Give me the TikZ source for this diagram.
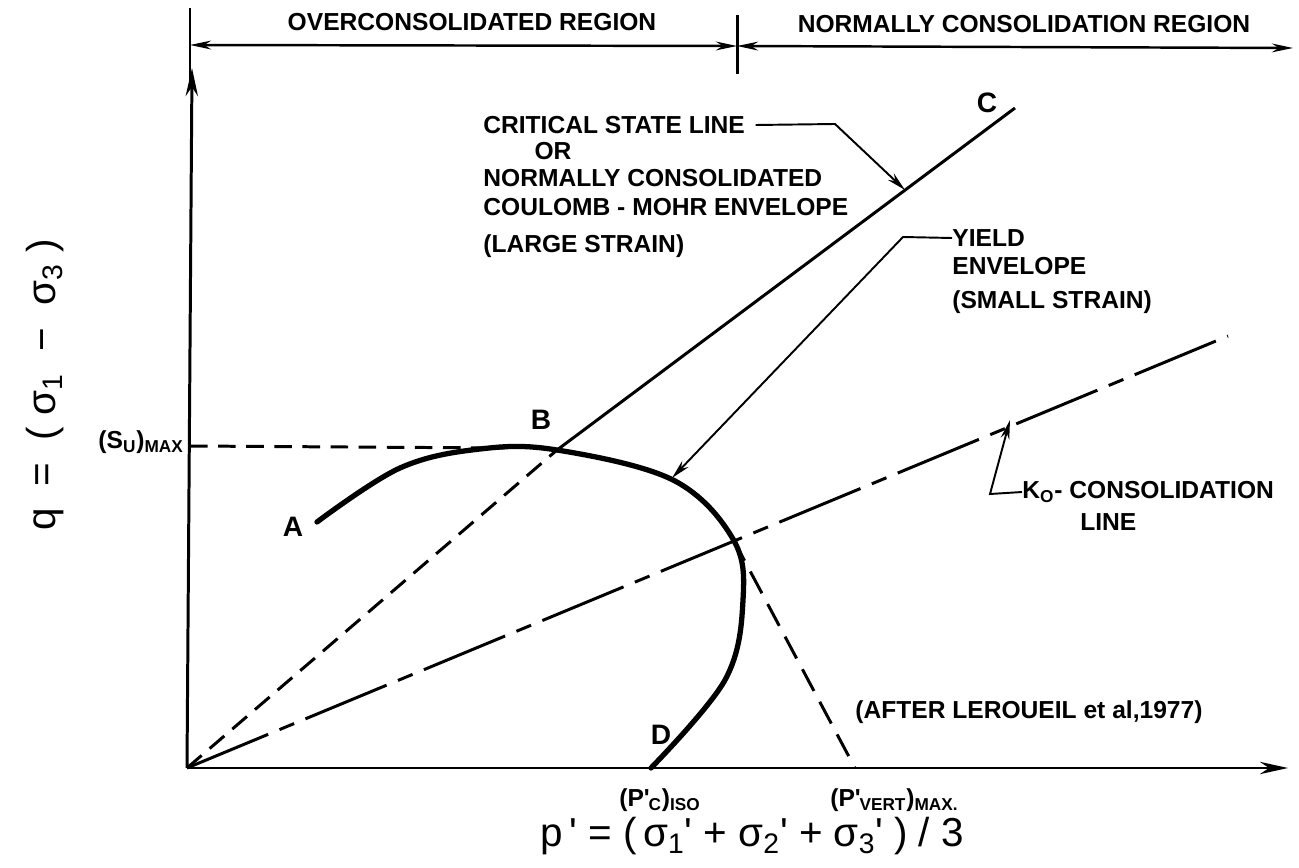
\documentclass[tikz,border=0pt]{standalone}
\usepackage{fontspec}
\setmainfont{Liberation Sans}
\usetikzlibrary{arrows.meta, positioning}

\newcommand{\ps}[1]{\textquotesingle\kern-0.05em\textsubscript{#1}}

\begin{document}
\begin{tikzpicture}[
  x=0.02cm, y=-0.02cm,
  lbl/.style={font=\bfseries\fontsize{14}{16}\selectfont, inner sep=0pt},
  ptlbl/.style={font=\bfseries\fontsize{16}{18}\selectfont, inner sep=0pt},
  axlbl/.style={font=\fontsize{23}{27}\selectfont, inner sep=0pt},
  axis/.style={line width=1.7pt, -{Stealth[length=16pt, width=7pt]}},
  span/.style={line width=1.4pt, {Stealth[length=12pt, width=5pt]}-{Stealth[length=12pt, width=5pt]}},
  tick/.style={line width=1.7pt},
  pointer/.style={line width=1.1pt, -{Stealth[length=11pt, width=5pt]}},
  csl/.style={line width=1.7pt},
  csldash/.style={line width=1.7pt, dash pattern=on 11pt off 6pt},
  sudash/.style={line width=1.7pt, dash pattern=on 10pt off 6pt},
  k0line/.style={line width=1.7pt, dash pattern=on 50pt off 7pt on 9pt off 7pt},
  vdash/.style={line width=1.7pt, dash pattern=on 14pt off 7pt},
  yieldcurve/.style={line width=3pt, line cap=round}
]
\useasboundingbox (0,0) rectangle (1299,868);

% region bar
\draw[tick] (190,8) coordinate (tickL) -- (190,80);
\draw[tick] (737,15) coordinate (tickM) -- (737,74);
\coordinate (barL) at (190,45);
\coordinate (barM) at (737,46);
\coordinate (barR) at (1293,48);
\draw[span] (barL) -- (barM);
\draw[span] (barM) -- (barR);
\node[lbl] (ocr) at (472,22) {OVERCONSOLIDATED REGION};
\node[lbl] (ncr) at (1024,24) {NORMALLY CONSOLIDATION REGION};

% axes
\coordinate (O) at (187,768);
\coordinate (xEnd) at (1288,768);
\coordinate (yEnd) at (192,68);
\draw[axis] (O) -- (xEnd);
\draw[axis] (O) -- (yEnd);
\node[axlbl, rotate=90] (qlbl) at (45,385) {q\;\;=\;\;(\;σ\textsubscript{1}\;\;−\;\;σ\textsubscript{3}\;)};
\node[axlbl] (plbl) at (752,836) {p\,\textquotesingle\;=\;(\,σ\textsubscript{1}\textquotesingle\;+\;σ\textsubscript{2}\textquotesingle\;+\;σ\textsubscript{3}\textquotesingle\;)\;/\;3};

% critical state line
\coordinate (B) at (557,450);
\coordinate (C) at (1015,108);
\draw[csldash] (O) -- (B);
\draw[csl] (B) -- (C);

% K0 line and (p'vert)max
\coordinate (K) at (1228,336);
\coordinate (KY) at (733,539);
\coordinate (Pv) at (855,768);
\draw[k0line] (O) -- (K);
\draw[vdash] (KY) -- (Pv);

% (Su)max
\coordinate (Su) at (190,446);
\coordinate (SuEnd) at (505,448);
\draw[sudash] (Su) -- (SuEnd);

% yield envelope
\draw[yieldcurve] plot[smooth, tension=0.6] coordinates {(317,522) (400,468) (480,449) (557,450) (673,480) (733,539) (743,600) (725,680) (651,768)};

% point labels
\node[ptlbl] (A) at (293,527) {A};
\node[ptlbl] (Blbl) at (541,420) {B};
\node[ptlbl] (Clbl) at (987,103) {C};
\node[ptlbl] (D) at (661,735) {D};
\node[lbl, anchor=east] (sulbl) at (184,442) {(S\textsubscript{U})\textsubscript{MAX}};
\node[lbl] (pclbl) at (660,800) {(P\ps{C})\textsubscript{ISO}};
\node[lbl, anchor=west] (pvlbl) at (830,800) {(P\ps{VERT})\textsubscript{MAX.}};
\node[lbl, anchor=west] (after) at (855,712) {(AFTER LEROUEIL et al,1977)};

% critical state label
\node[lbl, anchor=west] (csl1) at (483,125) {CRITICAL STATE LINE};
\node[lbl] (csl2) at (553,151) {OR};
\node[lbl, anchor=west] (csl3) at (483,178) {NORMALLY CONSOLIDATED};
\node[lbl, anchor=west] (csl4) at (483,207) {COULOMB - MOHR ENVELOPE};
\node[lbl, anchor=west] (csl5) at (483,246) {(LARGE STRAIN)};
\coordinate (cslBend) at (835,124);
\coordinate (cslTip) at (905,190);
\draw[pointer] ([xshift=6pt]csl1.east) -- (cslBend) -- (cslTip);

% yield label
\node[lbl, anchor=west] (yld1) at (952,238) {YIELD};
\node[lbl, anchor=west] (yld2) at (952,266) {ENVELOPE};
\node[lbl, anchor=west] (yld3) at (952,302) {(SMALL STRAIN)};
\coordinate (yldBend) at (903,237);
\coordinate (yldTip) at (672,478);
\draw[pointer] (yld1.west) -- (yldBend) -- (yldTip);

% K0 label
\node[lbl, anchor=west] (k0a) at (1022,492) {K\textsubscript{O}- CONSOLIDATION};
\node[lbl, anchor=west] (k0b) at (1080,522) {LINE};
\coordinate (k0Bend) at (990,494);
\coordinate (k0Tip) at (1010,420);
\draw[pointer] (k0a.west) -- (k0Bend) -- (k0Tip);
\end{tikzpicture}
\end{document}
